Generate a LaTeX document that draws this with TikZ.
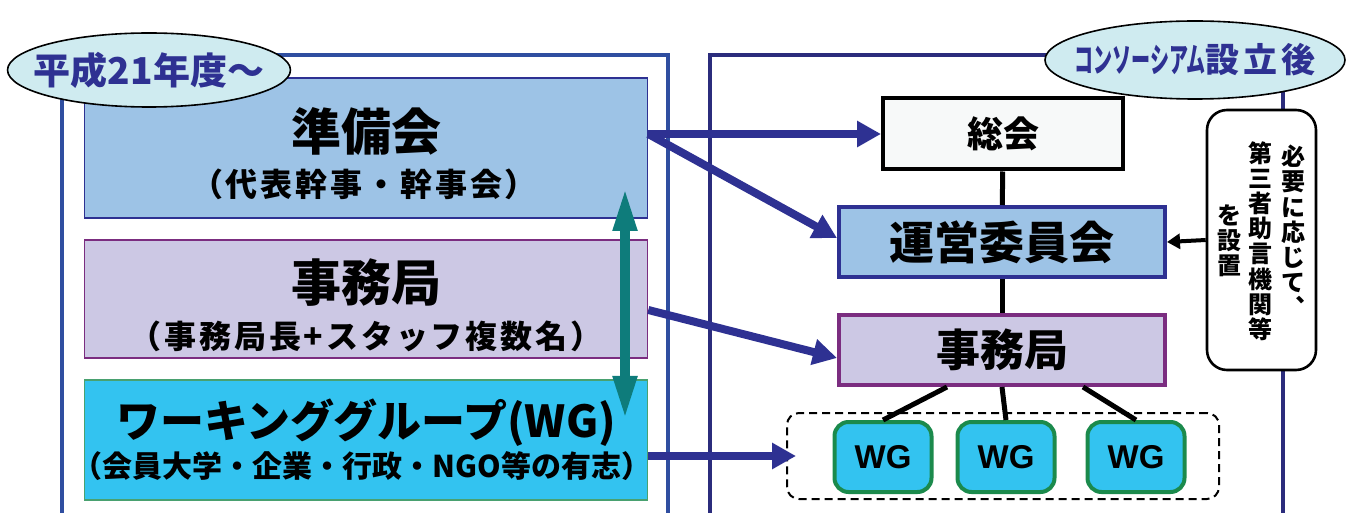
\documentclass[tikz,border=0pt]{standalone}
\usepackage{fontspec}
\IfFontExistsTF{Noto Sans CJK JP Black}
    {\setmainfont{Noto Sans CJK JP Black}}
    {\setmainfont{Noto Sans CJK JP Bold}}
\newfontfamily\latinfont{Liberation Sans}
\usepackage{tikz}
\usetikzlibrary{shapes.geometric,arrows.meta}

\definecolor{frameblue}{HTML}{2F4EA0}
\definecolor{framenavy}{HTML}{2B2C7C}
\definecolor{arrownavy}{HTML}{2E3192}
\definecolor{tealarrow}{HTML}{0E7C7B}
\definecolor{prepfill}{HTML}{9DC3E6}
\definecolor{officefill}{HTML}{CCC8E4}
\definecolor{officeline}{HTML}{7B2D80}
\definecolor{wgfill}{HTML}{33C3F0}
\definecolor{wgline}{HTML}{1B8A4C}
\definecolor{tagfill}{HTML}{CFEBF0}
\definecolor{assemblyfill}{HTML}{F7F9F9}

\newcommand{\fsz}[1]{\fontsize{#1}{#1}\selectfont}

\begin{document}
\begin{tikzpicture}[x=0.5pt,y=-0.5pt,
    box/.style={draw,rectangle,inner sep=0pt},
    prepbox/.style={box,fill=prepfill,draw=arrownavy,line width=0.8pt,minimum width=281.5pt},
    officebox/.style={box,fill=officefill,draw=officeline,line width=0.8pt,minimum width=281.5pt},
    wgbigbox/.style={box,fill=wgfill,draw=wgline!80,line width=0.8pt,minimum width=281.5pt},
    titletext/.style={inner sep=0pt,font=\fsz{25}},
    subtext/.style={inner sep=0pt,font=\fsz{16}\addfontfeature{LetterSpace=9}},
    tag/.style={ellipse,draw=black,line width=0.8pt,fill=tagfill,inner ysep=0pt,text=arrownavy},
    rightbox/.style={box,line width=2pt,minimum width=163pt,minimum height=35pt,font=\fsz{22.5}},
    wgsmall/.style={box,rounded corners=7pt,fill=wgfill,draw=wgline,line width=2pt,
        minimum width=48.5pt,minimum height=35pt,font=\latinfont\fsz{16.5}\bfseries},
    vtext/.style={inner sep=0pt,align=center,font=\fontsize{12}{12.6}\selectfont},
    link/.style={line width=2.5pt},
    navyarrow/.style={arrownavy,line width=4pt,-{Triangle[length=12pt,width=12.5pt]}},
]
\useasboundingbox (0,0) rectangle (1350,513);

% outer frames
\draw[frameblue,line width=1.6pt] (62,560) -- (62,55) -- (668,55) -- (668,560);
\draw[framenavy,line width=2.2pt] (710,560) -- (710,55) -- (1283,55) -- (1283,560);

% left: preparation stage
\node[prepbox,minimum height=70pt] (junbi) at (366,148) {};
\node[titletext] (junbititle) at (366,132) {準備会};
\node[subtext] (junbisub) at (364,184) {（代表幹事・幹事会）};

\node[officebox,minimum height=59pt] (jimuL) at (366,299) {};
\node[titletext] (jimuLtitle) at (366,283) {事務局};
\node[subtext] (jimuLsub) at (366,336) {（事務局長+スタッフ複数名）};

\node[wgbigbox,minimum height=60pt] (wgL) at (366,440) {};
\node[titletext,font=\fsz{22}] (wgLtitle) at (366,423) {ワーキンググループ(WG)};
\node[subtext,font=\fsz{15}] (wgLsub) at (362,466) {（会員大学・企業・行政・NGO等の有志）};

\coordinate (tealtop) at (625,187);
\coordinate (tealbot) at (625,420);
\draw[tealarrow,line width=5pt,{Triangle[length=22pt,width=11pt]}-{Triangle[length=22pt,width=11pt]}] (tealbot) -- (tealtop);

\node[tag,inner xsep=-7.5pt,minimum width=141pt,minimum height=37pt,font=\fsz{18.5}] (tagbefore) at (149,70) {平成21年度～};
\node[tag,inner xsep=-9pt,minimum width=150pt,minimum height=39pt,font=\fsz{17}] (tagafter) at (1195,60)
    {\scalebox{0.56}[1]{コンソーシアム}設\hspace{2pt}立\hspace{2pt}後};

% right: after the consortium
\node[rightbox,fill=assemblyfill,draw=black,minimum width=120pt,minimum height=35.5pt,font=\fsz{18}] (soukai) at (1003,134) {総会};
\node[rightbox,fill=prepfill,draw=arrownavy] (unei) at (1002,242) {運営委員会};
\node[rightbox,fill=officefill,draw=officeline,font=\fsz{22}] (jimuR) at (1002,350) {事務局};

\node[box,rounded corners=6pt,dashed,dash pattern=on 4pt off 2.5pt,line width=1pt,
    minimum width=216pt,minimum height=43pt] (wggroup) at (1003,456) {};
\foreach \i/\x in {1/883,2/1006,3/1136}
    \node[wgsmall] (wg\i) at (\x,457) {WG};

\draw[link] (soukai) -- (unei);
\draw[link] (unei) -- (jimuR);
\draw[link] ([xshift=-27.5pt]jimuR.south) -- (wg1.north);
\draw[link] (jimuR.south) -- (wg2.north);
\draw[link] ([xshift=40.5pt]jimuR.south) -- (wg3.north);

% advisory body
\node[box,rounded corners=10pt,fill=white,draw=black,line width=1.3pt,
    minimum width=54.5pt,minimum height=130pt] (side) at (1261.5,240) {};
\node[vtext] (sideR) at (1293,231) {必\\要\\に\\応\\じ\\て\\︑};
\node[vtext] (sideM) at (1260,241) {第\\三\\者\\助\\言\\機\\関\\等};
\node[vtext] (sideL) at (1229,241) {を\\設\\置};
\draw[line width=2pt,-{Triangle[length=6.5pt,width=7.5pt]}] (side.west) -- (unei.east);

% transitions
\draw[navyarrow] (junbi.east |- soukai.west) -- (soukai.west);
\draw[navyarrow] (junbi.east |- soukai.west) -- ([yshift=2pt]unei.west);
\draw[navyarrow] ([yshift=-5.5pt]jimuL.east) -- ([yshift=-4pt]jimuR.west);
\draw[navyarrow] (wgL.east |- wggroup.west) -- ([xshift=5pt]wggroup.west);

\end{tikzpicture}
\end{document}
